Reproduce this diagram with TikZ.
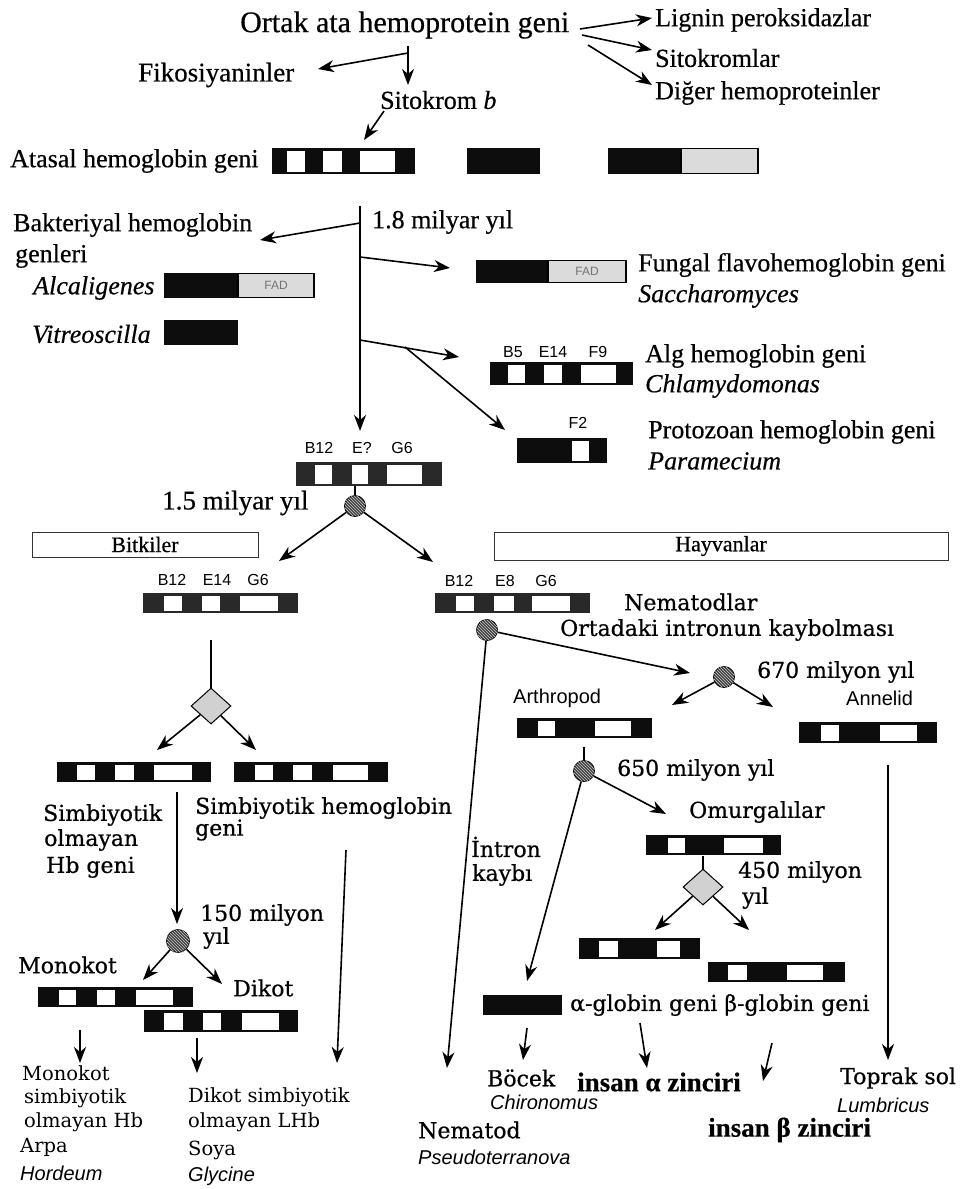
\documentclass[tikz,border=0pt]{standalone}
\usepackage{fontspec}
\setmainfont{Liberation Serif}[FakeBold=0.5]
\newfontfamily\centfont{DejaVu Serif}[FakeBold=0.6]
\newfontfamily\lightfont{DejaVu Serif}
\newfontfamily\arialfont{Liberation Sans}
\usetikzlibrary{arrows.meta,shapes.geometric,patterns,fit}

\definecolor{barblack}{gray}{0.05}
\definecolor{darkbar}{gray}{0.16}
\definecolor{fadgray}{gray}{0.86}

% exon/intron bar: black body with white intron windows
\newcommand\genebar[7][barblack]{%
  \fill[#1] (#3,#4) rectangle (#5,#6);
  \foreach \wa/\wb in {#7} {\fill[white] (\wa,#4+2.5) rectangle (\wb,#6-2.5);}
  \node[fit={(#3,#4)(#5,#6)}, inner sep=0pt, draw=none] (#2) {};
}
% bar without introns
\newcommand\solidbar[5]{%
  \fill[barblack] (#2,#3) rectangle (#4,#5);
  \node[fit={(#2,#3)(#4,#5)}, inner sep=0pt, draw=none] (#1) {};
}
% bar with a grey FAD domain on the right
\newcommand\fadbar[6]{%
  \fill[barblack] (#2,#3) rectangle (#6,#5);
  \filldraw[fill=fadgray, draw=black, line width=1.2pt] (#6,#3+0.6) rectangle (#4,#5-0.6);
  \node[fit={(#2,#3)(#4,#5)}, inner sep=0pt, draw=none] (#1) {};
}

\begin{document}
\begin{tikzpicture}[x=1pt,y=-1pt,
  tx/.style={inner sep=0pt, anchor=west, font=\fontsize{26}{30}\selectfont},
  txi/.style={inner sep=0pt, anchor=west, font=\fontsize{26}{30}\selectfont\itshape},
  ce/.style={inner sep=0pt, anchor=west, font=\centfont\fontsize{22}{26}\selectfont},
  lt/.style={inner sep=0pt, anchor=west, font=\lightfont\fontsize{19.5}{23}\selectfont},
  sa/.style={inner sep=0pt, anchor=west, font=\arialfont\fontsize{20}{24}\selectfont},
  sai/.style={inner sep=0pt, anchor=west, font=\arialfont\itshape\fontsize{20}{24}\selectfont},
  gl/.style={inner sep=0pt, font=\arialfont\fontsize{16}{18}\selectfont},
  fadlbl/.style={inner sep=0pt, text=black!55, font=\arialfont\fontsize{12}{14}\selectfont},
  conn/.style={line width=1.6pt, -{Stealth[length=16pt,width=12pt,inset=5pt]}},
  link/.style={line width=1.4pt},
  hatch/.style={circle, draw=black, line width=0.8pt, fill=black!75, minimum size=21pt, inner sep=0pt,
    postaction={pattern=north west lines, pattern color=white!80!black}},
  dia/.style={diamond, draw=black, line width=1pt, fill=black!18, minimum width=40pt, minimum height=36pt, inner sep=0pt},
  grp/.style={draw=black!80, line width=1pt, inner sep=0pt, font=\fontsize{22}{26}\selectfont},
]
\useasboundingbox (0,0) rectangle (963,1189);
\fill[white] (0,0) rectangle (963,1189);

% ---------------- common ancestor ----------------
\node[inner sep=0pt, anchor=west, font=\fontsize{30}{34}\selectfont] (root) at (240,25) {Ortak ata hemoprotein geni};
\node[tx] (lig) at (655,20) {Lignin peroksidazlar};
\node[tx] (sit) at (655,58) {Sitokromlar};
\node[tx] (dig) at (655,93) {Diğer hemoproteinler};
\node[tx, font=\fontsize{27}{30}\selectfont] (fiko) at (138,75) {Fikosiyaninler};
\node[tx] (sitb) at (380,100) {Sitokrom \textit{b}};

\coordinate (r1) at (580,29);  \coordinate (r1t) at (652,18);
\coordinate (r2) at (582,35);  \coordinate (r2t) at (652,50);
\coordinate (r3) at (588,45);  \coordinate (r3t) at (652,85);
\draw[conn] (r1) -- (r1t);
\draw[conn] (r2) -- (r2t);
\draw[conn] (r3) -- (r3t);
\coordinate (vtop) at (408,46); \coordinate (vtip) at (408,85);
\coordinate (vbr) at (408,53);  \coordinate (fikt) at (318,69);
\draw[conn] (vtop) -- (vtip);
\draw[conn] (vbr) -- (fikt);
\coordinate (sb1) at (384,111); \coordinate (sb2) at (364,140);
\draw[conn] (sb1) -- (sb2);

% ---------------- ancestral haemoglobin ----------------
\node[tx] (atasal) at (10,161) {Atasal hemoglobin geni};
\genebar{gA}{272}{148}{415}{174}{287/305,323/342,360/395}
\solidbar{gB}{467}{148}{540}{174}
\fadbar{gC}{608}{148}{758}{174}{681}

% ---------------- 1.8 billion years ----------------
\coordinate (m18) at (360,206);
\coordinate (m18t) at (360,431);
\draw[conn] (m18) -- (m18t);
\node[tx] (y18) at (372,222) {1.8 milyar yıl};

\node[tx] (bak1) at (13,225) {Bakteriyal hemoglobin};
\node[tx] (bak2) at (15,256) {genleri};
\coordinate (bkf) at (360,223); \coordinate (bkt) at (260,240);
\draw[conn] (bkf) -- (bkt);
\node[txi] (alc) at (33,288) {Alcaligenes};
\fadbar{gAlc}{164}{273}{314}{298}{238}
\node[fadlbl] (fad1) at (276,285.5) {FAD};
\node[txi] (vit) at (32,334) {Vitreoscilla};
\solidbar{gVit}{164}{320}{238}{345}

\coordinate (fuf) at (360,257); \coordinate (fut) at (450,268);
\draw[conn] (fuf) -- (fut);
\fadbar{gFun}{476}{260}{626}{283}{548}
\node[fadlbl] (fad2) at (587,271.5) {FAD};
\node[tx] (fun1) at (638,265) {Fungal flavohemoglobin geni};
\node[txi] (fun2) at (638,296) {Saccharomyces};

\coordinate (alf) at (360,340); \coordinate (alt) at (459,357);
\draw[conn] (alf) -- (alt);
\node[gl] (lb5) at (513,352) {B5};
\node[gl] (le14a) at (553,352) {E14};
\node[gl] (lf9) at (598,352) {F9};
\genebar{gAlg}{490}{362}{633}{385}{508/525,544/562,581/616}
\node[tx] (alg1) at (645,356) {Alg hemoglobin geni};
\node[txi] (alg2) at (645,386) {Chlamydomonas};

\coordinate (prf) at (405,347); \coordinate (prt) at (505,430);
\draw[conn] (prf) -- (prt);
\node[gl] (lf2) at (578,423) {F2};
\genebar{gPro}{517}{438}{607}{463}{572/589}
\node[tx] (pro1) at (648,432) {Protozoan hemoglobin geni};
\node[txi] (pro2) at (648,461) {Paramecium};

% ---------------- 1.5 billion years: plants / animals ----------------
\node[gl] (lb12a) at (319,448) {B12};
\node[gl] (lea) at (362,448) {E?};
\node[gl] (lg6a) at (402,448) {G6};
\genebar[darkbar]{gAnc}{296}{462}{442}{486}{315/332,352/368,387/422}
\node[tx, font=\fontsize{27}{30}\selectfont] (y15) at (162,503) {1.5 milyar yıl};
\node[hatch] (c1) at (355,506) {};
\coordinate (ancd) at (355,486);
\draw[link] (ancd) -- (c1);
\coordinate (plt) at (279,561); \coordinate (ant) at (433,562);
\draw[conn] (c1) -- (plt);
\draw[conn] (c1) -- (ant);

\node[grp, minimum width=226pt, minimum height=25pt] (bitk) at (145,544.5) {Bitkiler};
\node[grp, minimum width=454pt, minimum height=28pt] (hayv) at (721,546) {Hayvanlar};

\node[gl] (lb12p) at (172,580) {B12};
\node[gl] (le14p) at (217,580) {E14};
\node[gl] (lg6p) at (258,580) {G6};
\genebar[darkbar]{gPl}{143}{593}{298}{613}{164/182,202/220,240/278}

\node[gl] (lb12n) at (459,581) {B12};
\node[gl] (le8) at (505,581) {E8};
\node[gl] (lg6n) at (546,581) {G6};
\genebar[darkbar]{gAn}{435}{593}{590}{613}{456/474,494/514,532/570}
\node[ce] (nemd) at (624,602) {Nematodlar};
\node[ce] (ortd) at (560,630) {Ortadaki intronun kaybolması};
\node[hatch] (c2) at (487,630) {};

% ---------------- animals ----------------
\coordinate (c3in) at (690,673);
\draw[conn] (c2) -- (c3in);
\node[hatch] (c3) at (724,677) {};
\node[ce] (y670) at (757,672) {670 milyon yıl};
\coordinate (artt) at (672,705); \coordinate (annt) at (773,707);
\draw[conn] (c3) -- (artt);
\draw[conn] (c3) -- (annt);
\node[sa] (arth) at (513,698) {Arthropod};
\node[sa] (anne) at (846,698) {Annelid};
\genebar{gArt}{517}{718}{652}{738}{538/555,595/631}
\genebar{gAnn}{799}{722}{937}{743}{821/839,880/917}

\coordinate (artd) at (584,747);
\node[hatch] (c4) at (584,771) {};
\draw[link] (artd) -- (c4);
\node[ce] (y650) at (617,770) {650 milyon yıl};
\coordinate (omt) at (666,814);
\draw[conn] (c4) -- (omt);
\node[ce] (omur) at (689,812) {Omurgalılar};
\genebar{gVer}{646}{835}{781}{855}{668/685,724/763}
\coordinate (verd) at (703,856);
\node[dia] (d2) at (703,887) {};
\draw[link] (verd) -- (d2);
\node[ce] (y450a) at (738,872) {450 milyon};
\node[ce] (y450b) at (742,898) {yıl};
\coordinate (alpt) at (655,930); \coordinate (bett) at (749,930);
\draw[conn] (d2) -- (alpt);
\draw[conn] (d2) -- (bett);
\genebar{gAlp}{579}{938}{700}{959}{599/618,657/680}
\genebar{gBet}{708}{962}{845}{982}{728/747,787/823}

\node[ce] (intr1) at (471,847) {İntron};
\node[ce] (intr2) at (472,875) {kaybı};
\coordinate (inst) at (527,981);
\draw[conn] (c4) -- (inst);
\solidbar{gIns}{483}{995}{562}{1015}
\node[ce] (glob) at (570,1005) {α-globin geni β-globin geni};

\coordinate (ia1) at (527,1028); \coordinate (ia2) at (523,1060);
\draw[conn] (ia1) -- (ia2);
\coordinate (aa1) at (640,1023); \coordinate (aa2) at (647,1068);
\draw[conn] (aa1) -- (aa2);
\coordinate (ba1) at (772,1043); \coordinate (ba2) at (763,1081);
\draw[conn] (ba1) -- (ba2);

\node[ce] (boc) at (487,1078) {Böcek};
\node[sai] (chir) at (490,1102) {Chironomus};
\node[tx, font=\fontsize{27}{30}\selectfont\bfseries] (ina) at (577,1082) {insan α zinciri};
\node[tx, font=\fontsize{27}{30}\selectfont\bfseries] (inb) at (708,1130) {insan β zinciri};

\coordinate (anl) at (888,765); \coordinate (anlt) at (888,1060);
\draw[conn] (anl) -- (anlt);
\node[ce] (topr) at (840,1078) {Toprak sol};
\node[sai] (lumb) at (837,1105) {Lumbricus};

\coordinate (nemt) at (447,1068);
\draw[conn] (c2) -- (nemt);
\node[ce] (nemat) at (418,1130) {Nematod};
\node[sai] (pseu) at (418,1157) {Pseudoterranova};

% ---------------- plants ----------------
\coordinate (pld) at (211,640);
\node[dia] (d1) at (211,706) {};
\draw[link] (pld) -- (d1);
\coordinate (nst) at (157,750); \coordinate (syt) at (256,750);
\draw[conn] (d1) -- (nst);
\draw[conn] (d1) -- (syt);
\genebar{gNs}{57}{762}{211}{782}{77/95,115/134,154/192}
\genebar{gSy}{234}{762}{388}{782}{255/273,293/312,333/368}

\node[ce] (ns1) at (43,815) {Simbiyotik};
\node[ce] (ns2) at (44,840) {olmayan};
\node[ce] (ns3) at (46,867) {Hb geni};
\node[ce] (sy1) at (195,808) {Simbiyotik hemoglobin};
\node[ce] (sy2) at (195,830) {geni};

\coordinate (nsd) at (177,792); \coordinate (nsdt) at (177,924);
\draw[conn] (nsd) -- (nsdt);
\node[hatch, minimum size=23pt] (c5) at (178,941) {};
\node[ce] (y150a) at (200,915) {150 milyon};
\node[ce] (y150b) at (203,938) {yıl};
\coordinate (mot) at (143,980); \coordinate (dit) at (222,984);
\draw[conn] (c5) -- (mot);
\draw[conn] (c5) -- (dit);
\node[ce] (mono) at (18,965) {Monokot};
\node[ce] (diko) at (233,988) {Dikot};
\genebar{gMo}{38}{987}{193}{1007}{59/76,97/115,136/173}
\genebar{gDi}{144}{1010}{298}{1032}{164/183,203/221,242/279}

\coordinate (ma1) at (80,1030); \coordinate (ma2) at (80,1063);
\draw[conn] (ma1) -- (ma2);
\coordinate (da1) at (197,1038); \coordinate (da2) at (197,1073);
\draw[conn] (da1) -- (da2);
\coordinate (syd) at (346,850); \coordinate (sydt) at (337,1063);
\draw[conn] (syd) -- (sydt);

\node[lt] (mb1) at (22,1073) {Monokot};
\node[lt] (mb2) at (24,1098) {simbiyotik};
\node[lt] (mb3) at (24,1122) {olmayan Hb};
\node[lt] (mb4) at (20,1147) {Arpa};
\node[sai] (mb5) at (20,1173) {Hordeum};
\node[lt] (db1) at (188,1097) {Dikot simbiyotik};
\node[lt] (db2) at (188,1122) {olmayan LHb};
\node[lt] (db3) at (188,1150) {Soya};
\node[sai] (db4) at (188,1176) {Glycine};
\end{tikzpicture}
\end{document}
